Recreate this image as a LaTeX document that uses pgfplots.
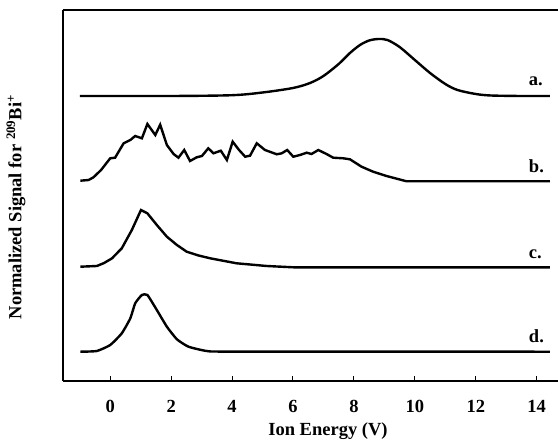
\documentclass[border=0pt]{standalone}
\usepackage{fontspec}
\setmainfont{Liberation Serif}
\usepackage{pgfplots}
\pgfplotsset{compat=1.18}
\newcommand{\lf}{\fontsize{18.5}{20}\selectfont\bfseries}
\begin{document}
\begin{tikzpicture}
\begin{axis}[name=ax, scale only axis, width=495pt, height=371pt,
  xmin=-1.55, xmax=14.7, ymin=0, ymax=371,
  axis lines=left, axis line style={-, line width=1.8pt},
  ytick=\empty, xtick={0,2,4,6,8,10,12,14},
  tick align=inside, major tick length=5pt,
  tick style={line width=1pt, black},
  /pgf/number format/assume math mode=true,
  xticklabel style={font=\lf, yshift=-16pt},
  clip=false]
% a
\addplot[black, line width=2.4pt, smooth, tension=0.5] coordinates {
(-1,285) (2,285) (4,285.8) (5,288.5) (6,293) (6.56,298) (7,305) (7.5,317) (7.87,328) (8.2,336) (8.5,340.5) (8.8,342) (9.1,341) (9.5,334) (10,321) (10.5,308) (11,297) (11.4,291) (12,287) (12.5,285.5) (13.5,285) (14.43,285)};
% b
\addplot[black, line width=2.4pt] coordinates {
(-0.98,200.3) (-0.71,201) (-0.55,203.7) (-0.3,211) (0,222.7) (0.16,223.3) (0.44,237.7) (0.66,241) (0.82,245) (1.04,242.7) (1.22,257) (1.48,246) (1.64,256.3) (1.86,236) (2.08,227) (2.24,223.3) (2.43,231) (2.62,220) (2.84,223.7) (3.01,225) (3.22,232.7) (3.39,227.7) (3.63,230.3) (3.83,221) (4.02,239.3) (4.23,231) (4.43,224.3) (4.59,225.3) (4.81,237.7) (5.08,231) (5.47,226.7) (5.63,227.7) (5.81,231) (6.01,224.3) (6.23,226) (6.45,228.3) (6.61,227) (6.83,231) (7.10,227) (7.32,223.3) (7.65,222.7) (7.87,221.7) (8.25,214.3) (8.63,209.3) (9.07,205) (9.73,199.7) (14.43,199.7)};
% c
\addplot[black, line width=2.4pt] coordinates {
(-0.98,114.3) (-0.44,115) (-0.2,118) (0.06,122.7) (0.38,132.7) (0.71,151) (1.01,171) (1.22,167.7) (1.53,156) (1.86,144.3) (2.19,136) (2.51,129.3) (2.9,125.5) (3.28,122.7) (4.15,117.7) (5.14,115) (6.01,113.7) (14.43,113.7)};
% d
\addplot[black, line width=2.4pt, smooth, tension=0.3] coordinates {
(-0.98,29.3) (-0.44,30) (0,36) (0.38,47.7) (0.66,62.7) (0.82,77.7) (1.04,86) (1.22,86) (1.53,71) (1.86,54.3) (2.19,41.7) (2.57,34.3) (3.17,30) (4,29.4) (14.43,29.3)};
\draw[line width=1.8pt] (rel axis cs:0,1) -- (rel axis cs:1,1);
\node[anchor=base west, inner sep=0, font=\lf] at (axis cs:13.74,295.3) {a.};
\node[anchor=base west, inner sep=0, font=\lf] at (axis cs:13.74,208) {b.};
\node[anchor=base west, inner sep=0, font=\lf] at (axis cs:13.74,123) {c.};
\node[anchor=base west, inner sep=0, font=\lf] at (axis cs:13.74,38.3) {d.};
\end{axis}
\node[rotate=90, font=\lf, inner sep=0] at ([xshift=-47pt, yshift=-11.5pt]ax.west) {Normalized Signal for \textsuperscript{209}Bi\textsuperscript{+}};
\node[anchor=base, font=\lf, inner sep=0] at ([xshift=17.5pt, yshift=-54pt]ax.south) {Ion Energy (V)};
\pgfresetboundingbox
\path[use as bounding box] ([xshift=-63pt,yshift=-63pt]ax.south west) rectangle ([yshift=10pt]ax.north east);
\end{tikzpicture}
\end{document}
